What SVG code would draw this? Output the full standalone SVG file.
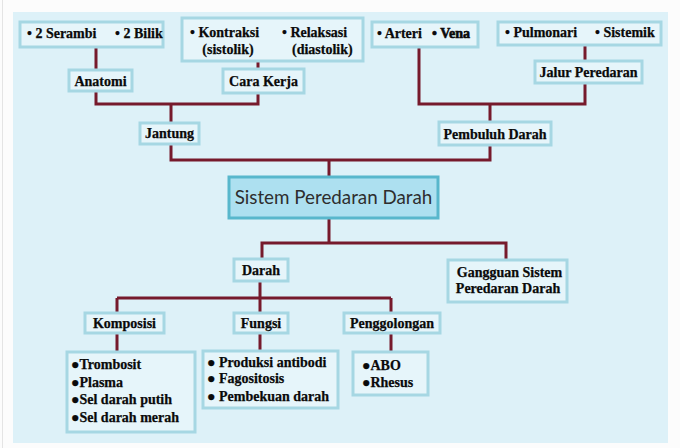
<svg xmlns="http://www.w3.org/2000/svg" width="680" height="448" viewBox="0 0 680 448">
<style>
.bx{fill:#e6f5fa;stroke:#a6d7e3;stroke-width:3}
.main{fill:#ade0f0;stroke:#58b7cc;stroke-width:3}
.t{font-family:'Liberation Serif','Times New Roman',serif;font-weight:700;font-size:14px;fill:#0a0a0a;stroke:#0a0a0a;stroke-width:0.25}
.c{text-anchor:middle}
.m{font-family:Lato,'Open Sans',sans-serif;font-size:18.8px;fill:#2e2e2e;text-anchor:middle}
.ln{fill:none;stroke:#761a2c;stroke-width:3}
</style>
<rect x="0" y="0" width="680" height="448" fill="#fcfcfc"/>
<line x1="2.5" y1="0" x2="2.5" y2="448" stroke="#e4e4e4" stroke-width="1"/>
<rect x="13" y="12" width="655" height="431" fill="#ddf1f8"/>
<g id="connectors" class="ln">
<path d="M96 47V70M96 91V104H258V93M258 61V69M171 104V123"/>
<path d="M419 47V104H585V83M585 45V61M490 104V122"/>
<path d="M171 144V160H490V145M329 160V177"/>
<path d="M329 218V243H262V259M329 243H506V260"/>
<path d="M260 281V298M117 298H391M117 298V313M260 298V313M391 298V313"/>
<path d="M117 333V352M260 333V351M391 333V352"/>
</g>
<g id="n-serambi"><rect class="bx" x="20" y="22" width="143" height="25"/><text class="t" x="27" y="38">• 2 Serambi</text><text class="t" x="115" y="38">• 2 Bilik</text></g>
<g id="n-kontraksi"><rect class="bx" x="182" y="18" width="181" height="43"/><text class="t" x="190" y="37">• Kontraksi</text><text class="t c" x="228" y="54">(sistolik)</text><text class="t" x="282" y="37">• Relaksasi</text><text class="t" x="292" y="54">(diastolik)</text></g>
<g id="n-anatomi"><rect class="bx" x="69" y="70" width="63" height="21"/><text class="t c" x="100.5" y="86">Anatomi</text></g>
<g id="n-carakerja"><rect class="bx" x="223" y="69" width="81" height="24"/><text class="t c" x="263.5" y="86">Cara Kerja</text></g>
<g id="n-jantung"><rect class="bx" x="140" y="123" width="59" height="21"/><text class="t c" x="169.5" y="138">Jantung</text></g>
<g id="n-arteri"><rect class="bx" x="372" y="22" width="106" height="25"/><text class="t" x="377" y="38">• Arteri</text><text class="t" x="432" y="38" style="stroke-width:0.6">• Vena</text></g>
<g id="n-pulmonari"><rect class="bx" x="498" y="22" width="163" height="23"/><text class="t" x="505" y="37">• Pulmonari</text><text class="t" x="595" y="37">• Sistemik</text></g>
<g id="n-jalur"><rect class="bx" x="535" y="61" width="107" height="22"/><text class="t c" x="588.5" y="77">Jalur Peredaran</text></g>
<g id="n-pembuluh"><rect class="bx" x="439" y="122" width="112" height="23"/><text class="t c" x="495" y="139">Pembuluh Darah</text></g>
<g id="n-main"><rect class="main" x="229" y="177" width="209" height="41"/><text class="m" x="333.5" y="204">Sistem Peredaran Darah</text></g>
<g id="n-darah"><rect class="bx" x="234" y="259" width="54" height="22"/><text class="t c" x="261" y="275">Darah</text></g>
<g id="n-gangguan"><rect class="bx" x="448" y="260" width="119" height="42"/><text class="t c" x="509.5" y="277">Gangguan Sistem</text><text class="t c" x="508" y="293">Peredaran Darah</text></g>
<g id="n-komposisi"><rect class="bx" x="85" y="313" width="79" height="20"/><text class="t c" x="124.5" y="328">Komposisi</text></g>
<g id="n-fungsi"><rect class="bx" x="234" y="313" width="54" height="20"/><text class="t c" x="261" y="328">Fungsi</text></g>
<g id="n-penggolongan"><rect class="bx" x="344" y="313" width="96" height="20"/><text class="t c" x="392" y="328">Penggolongan</text></g>
<g id="n-komposisi-list"><rect class="bx" x="67" y="352" width="128" height="80"/>
<text class="t" x="71" y="369">●Trombosit</text><text class="t" x="71" y="387">●Plasma</text><text class="t" x="71" y="404">●Sel darah putih</text><text class="t" x="71" y="422">●Sel darah merah</text></g>
<g id="n-fungsi-list"><rect class="bx" x="203" y="351" width="135" height="57"/>
<text class="t" x="207" y="367">● Produksi antibodi</text><text class="t" x="207" y="383">● Fagositosis</text><text class="t" x="207" y="401">● Pembekuan darah</text></g>
<g id="n-penggolongan-list"><rect class="bx" x="353" y="352" width="75" height="43"/>
<text class="t" x="362" y="370">●ABO</text><text class="t" x="362" y="387">●Rhesus</text></g>
</svg>
